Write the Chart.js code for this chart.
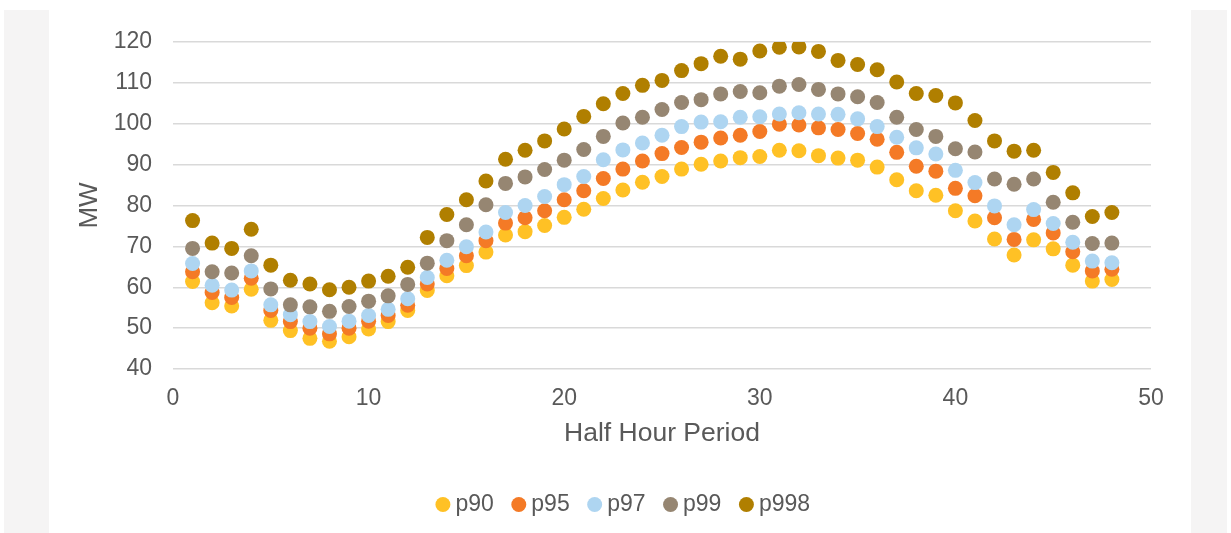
<!DOCTYPE html>
<html>
<head>
<meta charset="utf-8">
<script src="https://cdn.jsdelivr.net/npm/chart.js@4"></script>
<style>
  html, body { margin: 0; padding: 0; background: #fff; }
  body { width: 1231px; height: 533px; position: relative; overflow: hidden; }
  .panel { position: absolute; top: 10px; bottom: 0; background: #f5f4f4; }
  #wrap { position: absolute; left: 49px; top: 0; width: 1142px; height: 533px; }
</style>
</head>
<body>
<div class="panel" style="left:4px;width:45px"></div>
<div class="panel" style="left:1191px;width:36px"></div>
<div id="wrap"><canvas id="chart"></canvas></div>
<script>
const periods = [1, 2, 3, 4, 5, 6, 7, 8, 9, 10, 11, 12, 13, 14, 15, 16, 17, 18, 19, 20, 21, 22, 23, 24,
  25, 26, 27, 28, 29, 30, 31, 32, 33, 34, 35, 36, 37, 38, 39, 40, 41, 42, 43, 44, 45, 46, 47, 48];

const p90 = [61.4, 56.2, 55.4, 59.5, 51.9, 49.4, 47.5, 46.8, 47.9, 49.8, 51.6, 54.3,
  59.2, 62.8, 65.3, 68.6, 72.8, 73.6, 75.1, 77.1, 79.1, 81.7, 83.8, 85.7,
  87.1, 88.9, 90.1, 90.9, 91.7, 92.0, 93.5, 93.4, 92.2, 91.6, 91.1, 89.4,
  86.3, 83.6, 82.5, 78.7, 76.2, 71.8, 67.9, 71.6, 69.4, 65.4, 61.5, 61.9];
const p95 = [63.8, 58.7, 57.5, 62.2, 54.3, 51.6, 50.0, 48.6, 50.0, 51.7, 53.1, 55.6,
  60.8, 64.6, 67.7, 71.4, 75.7, 77.0, 78.7, 81.4, 83.6, 86.6, 88.9, 90.9,
  92.7, 94.2, 95.5, 96.5, 97.2, 98.1, 99.9, 99.7, 99.0, 98.6, 97.6, 96.2,
  93.0, 89.6, 88.4, 84.2, 82.4, 77.0, 71.7, 76.6, 73.3, 68.7, 64.0, 64.4];
const p97 = [65.8, 60.5, 59.3, 64.0, 55.7, 53.3, 51.6, 50.4, 51.7, 53.1, 54.6, 57.2,
  62.4, 66.6, 69.9, 73.5, 78.3, 80.0, 82.2, 85.1, 87.1, 91.2, 93.6, 95.3,
  97.2, 99.3, 100.4, 100.5, 101.6, 101.7, 102.4, 102.7, 102.4, 102.3, 101.2, 99.3,
  96.7, 94.1, 92.6, 88.6, 85.6, 79.9, 75.3, 79.0, 75.6, 71.0, 66.4, 66.0];
const p99 = [69.5, 63.8, 63.5, 67.7, 59.6, 55.7, 55.2, 54.1, 55.3, 56.6, 57.9, 60.7,
  65.9, 71.4, 75.3, 80.2, 85.4, 87.0, 88.8, 91.1, 93.7, 96.9, 100.2, 101.6,
  103.5, 105.2, 105.9, 107.3, 107.9, 107.6, 109.2, 109.6, 108.4, 107.3, 106.6, 105.2,
  101.6, 98.6, 96.9, 93.9, 93.1, 86.5, 85.2, 86.5, 80.8, 75.9, 70.7, 70.8];
const p998 = [76.3, 70.8, 69.5, 74.2, 65.4, 61.7, 60.8, 59.4, 60.0, 61.5, 62.7, 64.9,
  72.2, 77.8, 81.4, 86.0, 91.3, 93.5, 95.8, 98.7, 101.8, 104.9, 107.4, 109.4,
  110.6, 113.0, 114.7, 116.5, 115.8, 117.8, 118.7, 118.8, 117.7, 115.5, 114.5, 113.2,
  110.2, 107.4, 106.9, 105.1, 100.8, 95.8, 93.3, 93.5, 88.1, 83.1, 77.3, 78.3];

const seriesNames = ['p90', 'p95', 'p97', 'p99', 'p998'];
const seriesValues = [p90, p95, p97, p99, p998];
const seriesColors = ['#ffc125', '#f47a26', '#aed5f1', '#968672', '#b07f00'];

const textColor = '#595959';
const fontFamily = '"Liberation Sans", Arial, sans-serif';

// later series sit on top, like the spreadsheet chart
const datasets = seriesNames.map((name, i) => ({
  label: name,
  data: periods.map((x, j) => ({ x: x, y: seriesValues[i][j] })),
  backgroundColor: seriesColors[i],
  borderColor: seriesColors[i],
  borderWidth: 0,
  pointRadius: 7.5,
  pointHoverRadius: 7.5,
  order: seriesNames.length - i
}));

// the legend is centred on the whole chart box, not on the plot area
const legendShift = {
  id: 'legendShift',
  afterLayout(chart) {
    chart.legend.left += 26;
    chart.legend.right += 26;
  }
};

new Chart(document.getElementById('chart').getContext('2d'), {
  type: 'scatter',
  data: { datasets: datasets },
  plugins: [legendShift],
  options: {
    responsive: true,
    maintainAspectRatio: false,
    animation: false,
    layout: { padding: { top: 42, right: 40, bottom: 7, left: 0 } },
    plugins: {
      tooltip: { enabled: false },
      legend: {
        position: 'bottom',
        labels: {
          usePointStyle: true,
          pointStyle: 'circle',
          boxHeight: 10.6,
          boxWidth: 2,
          padding: 24,
          color: textColor,
          font: { family: fontFamily, size: 23 },
          sort: (a, b) => a.datasetIndex - b.datasetIndex
        }
      }
    },
    scales: {
      x: {
        type: 'linear',
        min: 0,
        max: 50,
        ticks: { stepSize: 10, color: textColor, padding: 16, maxRotation: 0, font: { family: fontFamily, size: 23 } },
        grid: { display: false, drawTicks: false },
        border: { display: false },
        title: {
          display: true,
          text: 'Half Hour Period',
          color: textColor,
          font: { family: fontFamily, size: 26.5 },
          padding: { top: 0, bottom: 19 }
        },
        afterFit: (s) => { s.height = 100; }
      },
      y: {
        min: 40,
        max: 120,
        ticks: { stepSize: 10, color: textColor, padding: 21, font: { family: fontFamily, size: 23 } },
        grid: { color: '#d9d9d9', lineWidth: 1.5, drawTicks: false },
        border: { display: false },
        title: {
          display: true,
          text: 'MW',
          color: textColor,
          font: { family: fontFamily, size: 26 },
          padding: { top: 25, bottom: 0 }
        },
        afterFit: (s) => { s.width = 124; }
      }
    }
  }
});
</script>
</body>
</html>
